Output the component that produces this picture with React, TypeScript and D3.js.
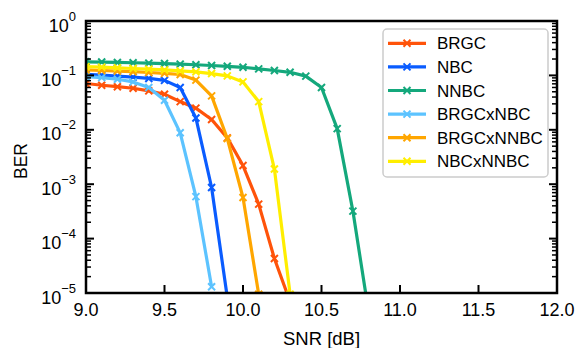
import React from 'react';
import * as d3 from 'd3';

// SNR grid [dB]
const snr = [9.0, 9.1, 9.2, 9.3, 9.4, 9.5, 9.6, 9.7, 9.8, 9.9, 10.0, 10.1, 10.2, 10.3, 10.4, 10.5, 10.6, 10.7, 10.8];

// BER values (starting at 9.0 dB)
const berBRGC = [0.071, 0.066, 0.062, 0.058, 0.052, 0.045, 0.033, 0.025, 0.0155, 0.0071, 0.0022, 0.00043, 0.000043, 0.0000069];
const berNBC = [0.105, 0.101, 0.097, 0.093, 0.088, 0.081, 0.06, 0.0165, 0.00087, 0.0000083];
const berNNBC = [0.178, 0.176, 0.173, 0.171, 0.168, 0.165, 0.161, 0.157, 0.152, 0.147, 0.141, 0.132, 0.123, 0.114, 0.097, 0.06, 0.0105, 0.00032, 0.0000045];
const berBRGCxNBC = [0.095, 0.091, 0.085, 0.076, 0.06, 0.035, 0.0088, 0.00059, 0.000013];
const berBRGCxNNBC = [0.126, 0.123, 0.12, 0.117, 0.113, 0.109, 0.104, 0.082, 0.042, 0.0069, 0.00057, 0.0000095];
const berNBCxNNBC = [0.145, 0.142, 0.138, 0.134, 0.13, 0.126, 0.121, 0.116, 0.108, 0.098, 0.076, 0.033, 0.0019, 0.0000095];

const seriesNames = ['BRGC', 'NBC', 'NNBC', 'BRGCxNBC', 'BRGCxNNBC', 'NBCxNNBC'];
const seriesValues = [berBRGC, berNBC, berNNBC, berBRGCxNBC, berBRGCxNNBC, berNBCxNNBC];
const seriesColors = ['#ff530a', '#0a5cff', '#14a87c', '#5cc3ff', '#ffa600', '#ffee00'];

const xTicks = [9.0, 9.5, 10.0, 10.5, 11.0, 11.5, 12.0];
const yExponents = [0, -1, -2, -3, -4, -5];

const W = 584;
const H = 348;
const margin = { top: 21, right: 27, bottom: 55, left: 86 };
const FONT = '"Liberation Sans", Arial, Helvetica, sans-serif';

const App = () => {
  const innerW = W - margin.left - margin.right;
  const innerH = H - margin.top - margin.bottom;

  const x = d3.scaleLinear().domain([9, 12]).range([0, innerW]);
  const y = d3.scaleLog().domain([1e-5, 1]).range([innerH, 0]);

  const line = d3
    .line<[number, number]>()
    .x(d => x(d[0]))
    .y(d => y(d[1]));

  // minor ticks for log axis: 2..9 x 10^k
  const minorTicks: number[] = [];
  for (let k = -5; k < 0; k++) {
    for (let m = 2; m <= 9; m++) minorTicks.push(m * Math.pow(10, k));
  }

  const marker = (cx: number, cy: number, color: string, key: string) => (
    <path
      key={key}
      d={`M${cx - 3.5},${cy - 3.5}L${cx + 3.5},${cy + 3.5}M${cx - 3.5},${cy + 3.5}L${cx + 3.5},${cy - 3.5}`}
      stroke={color}
      strokeWidth={2}
      fill="none"
    />
  );

  const legendX = 383 - margin.left;
  const legendY = 29 - margin.top;
  const legendRow = 23.6;

  return (
    <svg
      width={W}
      height={H}
      style={{ position: 'fixed', left: 0, top: 0, background: '#fff' }}
      fontFamily={FONT}
    >
      <defs>
        <clipPath id="plot-clip">
          <rect x={0} y={0} width={innerW} height={innerH} />
        </clipPath>
      </defs>
      <g transform={`translate(${margin.left},${margin.top})`}>
        {/* Data */}
        <g clipPath="url(#plot-clip)">
          {seriesValues.map((vals, si) => {
            const pts = vals.map((v, i) => [snr[i], v] as [number, number]);
            return (
              <g key={seriesNames[si]}>
                <path
                  d={line(pts) || ''}
                  fill="none"
                  stroke={seriesColors[si]}
                  strokeWidth={3.2}
                  strokeLinejoin="round"
                />
                {pts.map((p, i) => marker(x(p[0]), y(p[1]), seriesColors[si], `${si}-${i}`))}
              </g>
            );
          })}
        </g>

        {/* Y ticks (left and right, inward) */}
        {yExponents.map(e => {
          const ty = y(Math.pow(10, e));
          return (
            <g key={`y${e}`}>
              <line x1={0} x2={8} y1={ty} y2={ty} stroke="#000" strokeWidth={2} />
              <line x1={innerW} x2={innerW - 8} y1={ty} y2={ty} stroke="#000" strokeWidth={2} />
              <text x={-10} y={ty + 10.5} textAnchor="end" fontSize={18} fill="#000">
                10
                <tspan dy={-11} fontSize={13}>{e === 0 ? '0' : `\u2212${-e}`}</tspan>
              </text>
            </g>
          );
        })}
        {minorTicks.map(v => (
          <g key={`m${v}`}>
            <line x1={0} x2={5} y1={y(v)} y2={y(v)} stroke="#000" strokeWidth={1.5} />
            <line x1={innerW} x2={innerW - 5} y1={y(v)} y2={y(v)} stroke="#000" strokeWidth={1.5} />
          </g>
        ))}

        {/* X ticks */}
        {xTicks.map(t => (
          <g key={`x${t}`} transform={`translate(${x(t)},0)`}>
            <line y1={innerH} y2={innerH - 8} stroke="#000" strokeWidth={2} />
            <text y={innerH + 23} textAnchor="middle" fontSize={18} fill="#000">
              {t.toFixed(1)}
            </text>
          </g>
        ))}

        {/* Frame */}
        <rect x={0} y={0} width={innerW} height={innerH} fill="none" stroke="#000" strokeWidth={2.5} />

        {/* Axis labels */}
        <text x={innerW / 2} y={innerH + 52} textAnchor="middle" fontSize={18.5} fill="#000">
          SNR [dB]
        </text>
        <text
          transform={`translate(${21 - margin.left + 6},${161 - margin.top}) rotate(-90)`}
          textAnchor="middle"
          fontSize={17.5}
          fill="#000"
        >
          BER
        </text>

        {/* Legend */}
        <g transform={`translate(${legendX},${legendY})`}>
          <rect width={165} height={148} rx={4} fill="#fff" fillOpacity={0.9} stroke="#cccccc" strokeWidth={1.5} />
          {seriesNames.map((name, i) => {
            const ly = 14.3 + i * legendRow;
            return (
              <g key={name}>
                <line x1={5} x2={43} y1={ly} y2={ly} stroke={seriesColors[i]} strokeWidth={3.2} />
                {marker(24, ly, seriesColors[i], `leg${i}`)}
                <text x={54} y={ly + 6} fontSize={17} fill="#000">
                  {name}
                </text>
              </g>
            );
          })}
        </g>
      </g>
    </svg>
  );
};

export default App;
